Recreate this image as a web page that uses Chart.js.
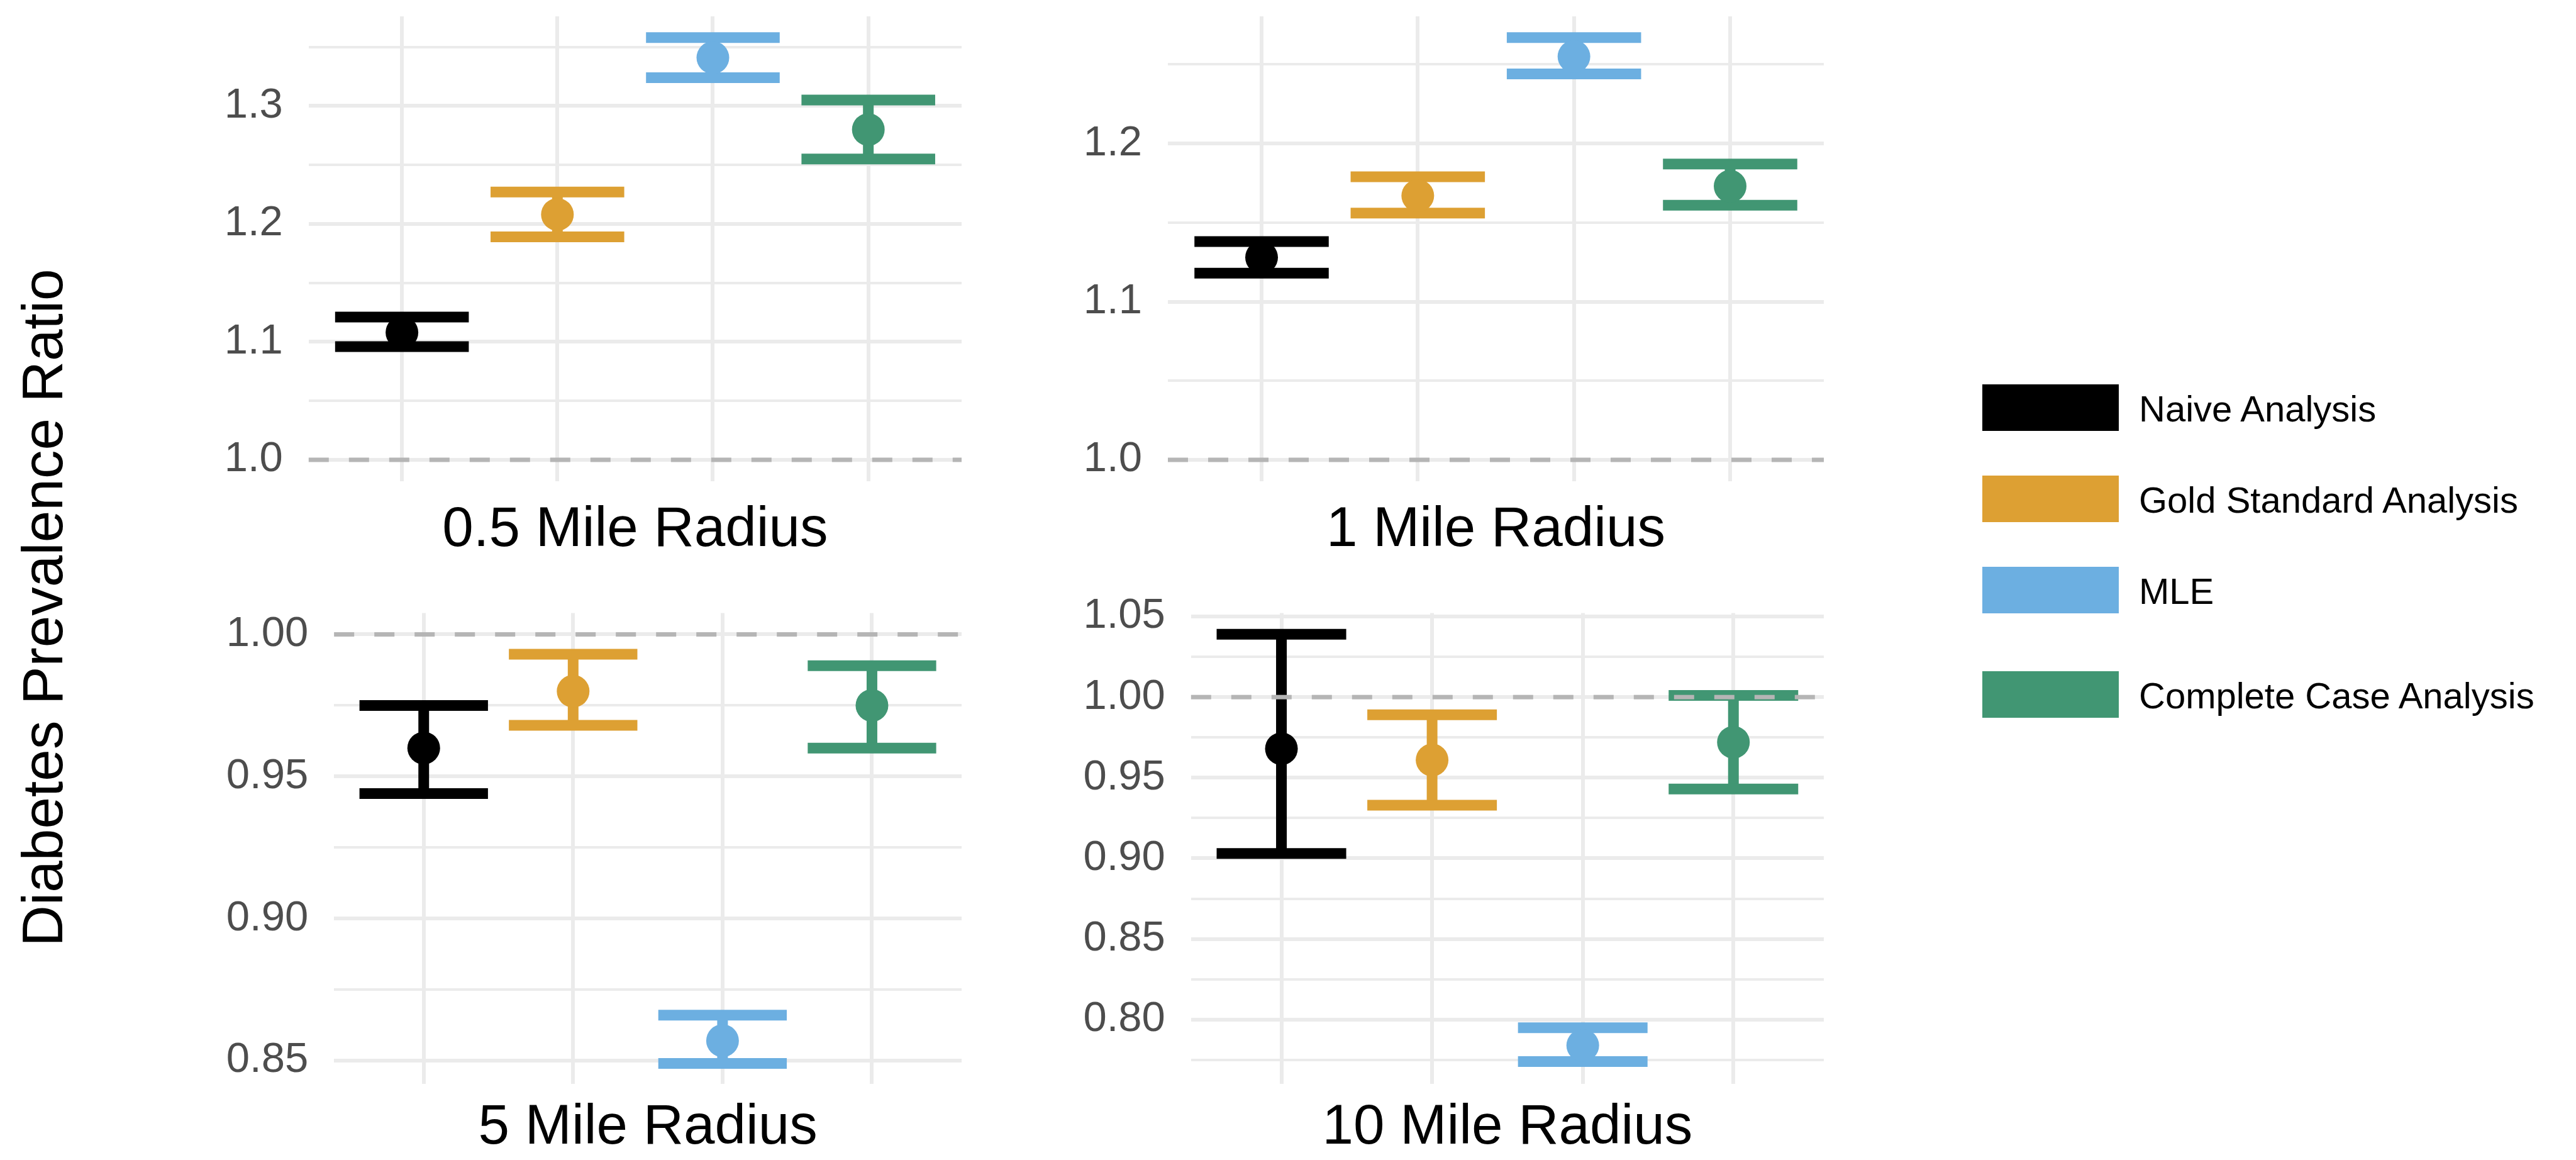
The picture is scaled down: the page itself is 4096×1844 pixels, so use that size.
<!DOCTYPE html>
<html>
<head>
<meta charset="utf-8">
<title>Diabetes Prevalence Ratio by Buffer Radius</title>
<script src="https://cdn.jsdelivr.net/npm/chart.js@4.4.1/dist/chart.umd.min.js"></script>
<style>
  html, body { margin: 0; padding: 0; background: #ffffff; }
  body {
    width: 4096px; height: 1844px; position: relative; overflow: hidden;
    font-family: 'Liberation Sans', Arial, Helvetica, sans-serif;
  }
  .panel { position: absolute; }
  .panel canvas { display: block; }
  #ytitle {
    position: absolute; left: 66.5px; top: 966px;
    transform: translate(-50%, -50%) rotate(-90deg);
    font-size: 91px; line-height: 1; white-space: nowrap; color: #000;
  }
  .legend-key { position: absolute; width: 217px; height: 74px; }
  .legend-label {
    position: absolute; font-size: 58px; line-height: 1; white-space: nowrap;
    color: #000; transform: translateY(-50%);
  }
</style>
</head>
<body>
<div id="ytitle">Diabetes Prevalence Ratio</div>
<div id="legend"></div>

<script>
// ---- data ---------------------------------------------------------------
const METHODS = ['Naive Analysis', 'Gold Standard Analysis', 'MLE', 'Complete Case Analysis'];
const METHOD_COLORS = ['#000000', '#DDA033', '#6CAFE1', '#419673'];
const RADIUS_LABELS = ['0.5 Mile Radius', '1 Mile Radius', '5 Mile Radius', '10 Mile Radius'];

// point estimates and 95% interval bounds, in METHODS order
const EST_HALF_MILE  = [1.108, 1.208, 1.341, 1.280];
const LOW_HALF_MILE  = [1.096, 1.189, 1.324, 1.255];
const HIGH_HALF_MILE = [1.121, 1.227, 1.358, 1.305];

const EST_ONE_MILE  = [1.128, 1.167, 1.255, 1.173];
const LOW_ONE_MILE  = [1.118, 1.156, 1.244, 1.161];
const HIGH_ONE_MILE = [1.138, 1.179, 1.267, 1.187];

const EST_FIVE_MILE  = [0.960, 0.980, 0.857, 0.975];
const LOW_FIVE_MILE  = [0.944, 0.968, 0.849, 0.960];
const HIGH_FIVE_MILE = [0.975, 0.993, 0.866, 0.989];

const EST_TEN_MILE  = [0.968, 0.961, 0.784, 0.972];
const LOW_TEN_MILE  = [0.903, 0.933, 0.774, 0.943];
const HIGH_TEN_MILE = [1.039, 0.989, 0.795, 1.001];

// labelled y ticks of each panel
const TICKS_HALF_MILE = [1.0, 1.1, 1.2, 1.3];
const TICKS_ONE_MILE  = [1.0, 1.1, 1.2];
const TICKS_FIVE_MILE = [0.85, 0.90, 0.95, 1.00];
const TICKS_TEN_MILE  = [0.80, 0.85, 0.90, 0.95, 1.00, 1.05];

const REFERENCE_RATIO = 1.0;

// ---- styling ------------------------------------------------------------
const FONT = "'Liberation Sans', Arial, Helvetica, sans-serif";
const GRID_COLOR = '#ebebeb';
const TITLE_SIZE = 89;
const TICK_SIZE = 67;
const BAR_WIDTH = 17;
const POINT_RADIUS = 26;
const CAP_FRACTION = 0.86;

// panel geometry (page pixels): canvas box and plotting area
const PANELS = [
  { title: RADIUS_LABELS[0], est: EST_HALF_MILE, low: LOW_HALF_MILE, high: HIGH_HALF_MILE,
    ticks: TICKS_HALF_MILE, decimals: 1, minorStep: 0.05, yMin: 0.982, yMax: 1.376,
    box: { left: 180, top: 0, width: 1375, height: 910 },
    plot: { left: 490.8, top: 20.2, right: 1542.6, bottom: 764.7 }, titleY: 843.5 },
  { title: RADIUS_LABELS[1], est: EST_ONE_MILE, low: LOW_ONE_MILE, high: HIGH_ONE_MILE,
    ticks: TICKS_ONE_MILE, decimals: 1, minorStep: 0.05, yMin: 0.9866, yMax: 1.2804,
    box: { left: 1560, top: 0, width: 1366, height: 910 },
    plot: { left: 1857, top: 20.2, right: 2906, bottom: 764.7 }, titleY: 843.5 },
  { title: RADIUS_LABELS[2], est: EST_FIVE_MILE, low: LOW_FIVE_MILE, high: HIGH_FIVE_MILE,
    ticks: TICKS_FIVE_MILE, decimals: 2, minorStep: 0.025, yMin: 0.8419, yMax: 1.0075,
    box: { left: 180, top: 910, width: 1375, height: 934 },
    plot: { left: 531.2, top: 974.6, right: 1542.6, bottom: 1722.6 }, titleY: 1793 },
  { title: RADIUS_LABELS[3], est: EST_TEN_MILE, low: LOW_TEN_MILE, high: HIGH_TEN_MILE,
    ticks: TICKS_TEN_MILE, decimals: 2, minorStep: 0.025, yMin: 0.7603, yMax: 1.0521,
    box: { left: 1560, top: 910, width: 1366, height: 934 },
    plot: { left: 1893.8, top: 974.6, right: 2906, bottom: 1722.6 }, titleY: 1793 }
];

// dashed null-effect line drawn across the plotting area
const referenceLine = {
  id: 'referenceLine',
  afterDatasetsDraw(chart, args, opts) {
    const y = chart.scales.y.getPixelForValue(opts.value);
    const { left, right } = chart.chartArea;
    const ctx = chart.ctx;
    ctx.save();
    ctx.strokeStyle = opts.color;
    ctx.lineWidth = opts.width;
    ctx.setLineDash(opts.dash);
    ctx.beginPath();
    ctx.moveTo(left, y);
    ctx.lineTo(right, y);
    ctx.stroke();
    ctx.restore();
  }
};

function capRadius(ctx) {
  const s = ctx.chart.scales.x;
  return Math.abs(s.getPixelForValue(1) - s.getPixelForValue(0)) * CAP_FRACTION / 2;
}

function makePanel(p) {
  const wrap = document.createElement('div');
  wrap.className = 'panel';
  Object.assign(wrap.style, {
    left: p.box.left + 'px', top: p.box.top + 'px',
    width: p.box.width + 'px', height: p.box.height + 'px'
  });
  const canvas = document.createElement('canvas');
  canvas.width = p.box.width;
  canvas.height = p.box.height;
  canvas.style.width = p.box.width + 'px';
  canvas.style.height = p.box.height + 'px';
  wrap.appendChild(canvas);
  document.body.appendChild(wrap);

  const yAxisWidth = p.plot.left - p.box.left;
  const xAxisHeight = (p.box.top + p.box.height) - p.plot.bottom;
  const padTop = p.plot.top - p.box.top;
  const padRight = (p.box.left + p.box.width) - p.plot.right;
  const titlePadBottom = (p.box.top + p.box.height) - p.titleY - TITLE_SIZE / 2;
  const isMajor = v => p.ticks.some(t => Math.abs(t - v) < 1e-6);

  const datasets = [];
  METHODS.forEach((m, i) => {
    const c = METHOD_COLORS[i];
    const x = i + 1;
    datasets.push({
      label: m + ' (95% CI)',
      data: [{ x, y: p.low[i] }, { x, y: p.high[i] }],
      showLine: true,
      borderColor: c,
      borderWidth: BAR_WIDTH,
      borderCapStyle: 'butt',
      pointStyle: 'line',
      pointRadius: capRadius,
      pointBorderWidth: BAR_WIDTH,
      pointBorderColor: c,
      pointBackgroundColor: c,
      order: 2,
      clip: false
    });
    datasets.push({
      label: m,
      data: [{ x, y: p.est[i] }],
      pointStyle: 'circle',
      pointRadius: POINT_RADIUS,
      pointBorderWidth: 0,
      pointBackgroundColor: c,
      order: 1,
      clip: false
    });
  });

  new Chart(canvas, {
    type: 'scatter',
    data: { datasets },
    plugins: [referenceLine],
    options: {
      responsive: false,
      devicePixelRatio: 1,
      animation: false,
      events: [],
      layout: { padding: { top: padTop, right: padRight, left: 0, bottom: 0 } },
      plugins: {
        legend: { display: false },
        tooltip: { enabled: false },
        referenceLine: { value: REFERENCE_RATIO, color: '#b5b5b5', width: 7, dash: [32, 32] }
      },
      scales: {
        x: {
          type: 'linear', min: 0.4, max: 4.6,
          ticks: { stepSize: 1, includeBounds: false, display: false },
          grid: { color: GRID_COLOR, lineWidth: 6, drawTicks: false },
          border: { display: false },
          title: {
            display: true, text: p.title, color: '#000',
            font: { family: FONT, size: TITLE_SIZE, lineHeight: 1 },
            padding: { top: 0, bottom: titlePadBottom }
          },
          afterFit(scale) { scale.height = xAxisHeight; scale.paddingLeft = 0; scale.paddingRight = 0; }
        },
        y: {
          type: 'linear', min: p.yMin, max: p.yMax,
          ticks: {
            stepSize: p.minorStep, includeBounds: false, autoSkip: false,
            padding: 41, color: '#4d4d4d',
            font: { family: FONT, size: TICK_SIZE },
            callback: v => isMajor(v) ? Number(v).toFixed(p.decimals) : ''
          },
          grid: {
            color: GRID_COLOR, drawTicks: false,
            lineWidth: ctx => (ctx.tick && isMajor(ctx.tick.value)) ? 6 : 4
          },
          border: { display: false },
          afterFit(scale) { scale.width = yAxisWidth; scale.paddingTop = 0; scale.paddingBottom = 0; }
        }
      }
    }
  });
}

PANELS.forEach(makePanel);

// legend: colour keys and method names
const LEGEND_CENTERS = [648, 793, 938, 1104];
const legend = document.getElementById('legend');
METHODS.forEach((m, i) => {
  const key = document.createElement('div');
  key.className = 'legend-key';
  key.style.left = '3152px';
  key.style.top = (LEGEND_CENTERS[i] - 37) + 'px';
  key.style.background = METHOD_COLORS[i];
  legend.appendChild(key);
  const label = document.createElement('div');
  label.className = 'legend-label';
  label.style.left = '3401px';
  label.style.top = (LEGEND_CENTERS[i] + 2) + 'px';
  label.textContent = m;
  legend.appendChild(label);
});
</script>
</body>
</html>
